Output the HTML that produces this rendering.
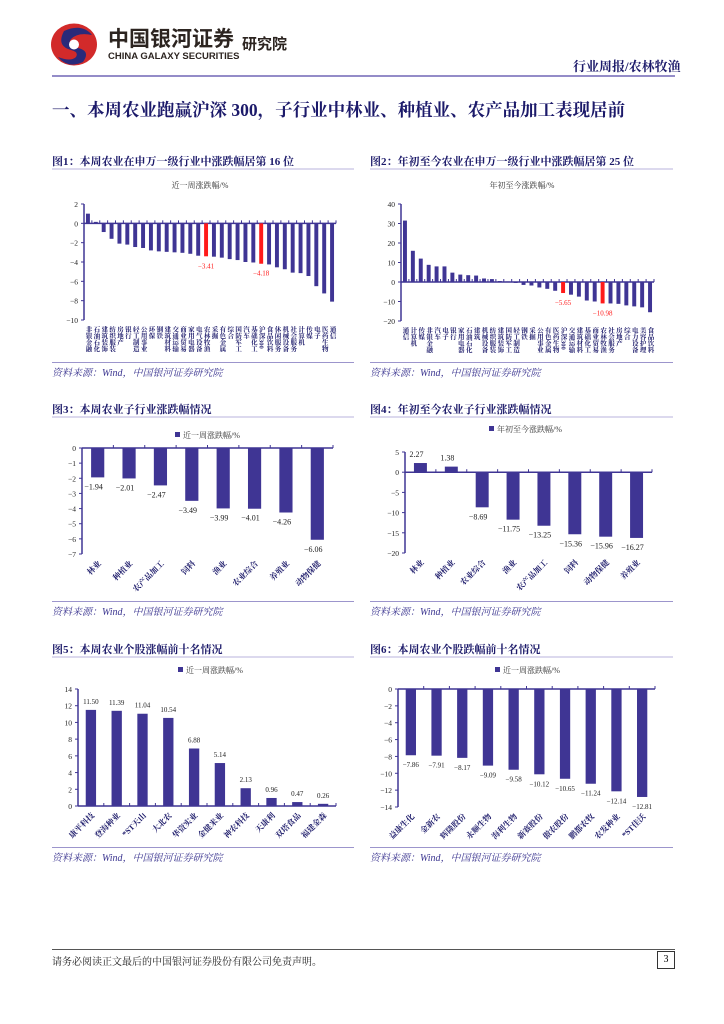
<!DOCTYPE html>
<html><head><meta charset="utf-8"><style>
body{margin:0;background:#fff;}
#page{position:relative;width:724px;height:1024px;overflow:hidden;background:#fff;font-family:"Liberation Serif","Noto Serif CJK SC",serif;}
.abs{position:absolute;white-space:nowrap;}
.lh1{line-height:1;}
.cap{font-size:11px;font-weight:bold;color:#1c1a6a;}
.src{font-size:10px;font-style:italic;color:#3b3590;}
.hl{position:absolute;height:2px;background:#dcd9ee;}
.sl{position:absolute;height:1px;background:#9c95cc;}
</style></head><body>
<div id="page">
<svg class="abs" style="left:50px;top:23px" width="48" height="43">
<ellipse cx="24" cy="21.5" rx="23" ry="21" fill="#d22a2a"/>
<path d="M14 8 Q32 0 42 12 Q28 9 21 16 Q16 23 28 25 Q41 28 33 39 Q18 46 8 34 Q21 39 26 34 Q29 29 21 27 Q6 23 14 8Z" fill="#2a2a7a"/>
<circle cx="24" cy="21.5" r="5" fill="#fff"/>
</svg>
<div class="abs lh1" style="left:108px;top:29px;font-size:21px;font-weight:bold;color:#2c2420;font-family:'Liberation Sans','Noto Sans CJK SC',sans-serif">中国银河证券</div>
<div class="abs lh1" style="left:108px;top:52px;font-size:9.5px;font-weight:bold;color:#2c2420;font-family:'Liberation Sans',sans-serif">CHINA GALAXY SECURITIES</div>
<div class="abs lh1" style="left:242px;top:37px;font-size:15px;font-weight:bold;color:#2c2420;font-family:'Liberation Sans','Noto Sans CJK SC',sans-serif">研究院</div>
<div class="abs" style="left:573px;top:56px;font-size:13px;font-weight:bold;color:#1c1a6a">行业周报/农林牧渔</div>
<div class="abs" style="left:52px;top:75px;width:623px;height:2px;background:#948cc8"></div>
<div class="abs" style="left:52px;top:97px;font-size:17.5px;font-weight:bold;color:#1c1a6a">一、本周农业跑赢沪深 300，子行业中林业、种植业、农产品加工表现居前</div>

<div class="abs cap" style="left:52px;top:153px">图1：本周农业在申万一级行业中涨跌幅居第 16 位</div>
<div class="hl" style="left:52px;top:168px;width:302px"></div>
<div class="abs cap" style="left:370px;top:153px">图2：年初至今农业在申万一级行业中涨跌幅居第 25 位</div>
<div class="hl" style="left:370px;top:168px;width:303px"></div>
<div class="sl" style="left:52px;top:362px;width:302px"></div>
<div class="sl" style="left:370px;top:362px;width:303px"></div>
<div class="abs src" style="left:52px;top:364px">资料来源：Wind，中国银河证券研究院</div>
<div class="abs src" style="left:370px;top:364px">资料来源：Wind，中国银河证券研究院</div>

<div class="abs cap" style="left:52px;top:401px">图3：本周农业子行业涨跌幅情况</div>
<div class="hl" style="left:52px;top:416px;width:302px"></div>
<div class="abs cap" style="left:370px;top:401px">图4：年初至今农业子行业涨跌幅情况</div>
<div class="hl" style="left:370px;top:416px;width:303px"></div>
<div class="sl" style="left:52px;top:601px;width:302px"></div>
<div class="sl" style="left:370px;top:601px;width:303px"></div>
<div class="abs src" style="left:52px;top:603px">资料来源：Wind，中国银河证券研究院</div>
<div class="abs src" style="left:370px;top:603px">资料来源：Wind，中国银河证券研究院</div>

<div class="abs cap" style="left:52px;top:641px">图5：本周农业个股涨幅前十名情况</div>
<div class="hl" style="left:52px;top:656px;width:302px"></div>
<div class="abs cap" style="left:370px;top:641px">图6：本周农业个股跌幅前十名情况</div>
<div class="hl" style="left:370px;top:656px;width:303px"></div>
<div class="sl" style="left:52px;top:847px;width:302px"></div>
<div class="sl" style="left:370px;top:847px;width:303px"></div>
<div class="abs src" style="left:52px;top:849px">资料来源：Wind，中国银河证券研究院</div>
<div class="abs src" style="left:370px;top:849px">资料来源：Wind，中国银河证券研究院</div>

<div class="abs" style="left:52px;top:949px;width:623px;height:1px;background:#555"></div>
<div class="abs" style="left:52px;top:953px;font-size:10px;color:#222">请务必阅读正文最后的中国银河证券股份有限公司免责声明。</div>
<div class="abs" style="left:657px;top:951px;width:16px;height:16px;border:1px solid #333;font-size:10px;text-align:center;line-height:16px">3</div>

<svg id="charts" class="abs" style="left:0;top:0" width="724" height="1024"></svg>
</div>
<script>
const c1Cats=['非银金融','石油石化','建筑装饰','纺织服装','房地产','银行','轻工制造','公用事业','环保','钢铁','建筑材料','交通运输','商业贸易','家用电器','电气设备','农林牧渔','采掘','有色金属','综合','国防军工','汽车','基础化工','沪深300','食品饮料','休闲服务','机械设备','社会服务','计算机','传媒','电子','医药生物','通信'];
const c1Vals=[1.0,0.15,-0.9,-1.6,-2.1,-2.2,-2.45,-2.55,-2.8,-2.9,-2.95,-3.0,-3.05,-3.15,-3.35,-3.41,-3.45,-3.55,-3.7,-3.8,-4.0,-4.05,-4.18,-4.25,-4.55,-4.75,-5.1,-5.15,-5.45,-6.5,-7.25,-8.1];
const c1Red=[15,22];
const c1Ticks=[2,0,-2,-4,-6,-8,-10];
const c2Cats=['通信','计算机','传媒','非银金融','汽车','电子','银行','家用电器','石油石化','建筑','机械设备','纺织服装','建筑装饰','国防军工','轻工制造','钢铁','采掘','公用事业','有色金属','医药生物','沪深300','交通运输','建筑材料','基础化工','商业贸易','农林牧渔','社会服务','房地产','综合','电力设备','美容护理','食品饮料'];
const c2Vals=[31.5,16,12,8.8,8,8,4.8,3.8,3.5,3.3,1.8,1.5,0.5,0.3,-0.5,-1.5,-1.8,-2.8,-3.5,-4.5,-5.65,-6.5,-7.5,-9.5,-10,-10.98,-11,-11.2,-12,-12.5,-13,-15.5];
const c2Red=[20,25];
const c2Ticks=[40,30,20,10,0,-10,-20];
const c3Cats=['林业','种植业','农产品加工','饲料','渔业','农业综合','养殖业','动物保健'];
const c3Vals=[-1.94,-2.01,-2.47,-3.49,-3.99,-4.01,-4.26,-6.06];
const c3Ticks=[0,-1,-2,-3,-4,-5,-6,-7];
const c4Cats=['林业','种植业','农业综合','渔业','农产品加工','饲料','动物保健','养殖业'];
const c4Vals=[2.27,1.38,-8.69,-11.75,-13.25,-15.36,-15.96,-16.27];
const c4Ticks=[5,0,-5,-10,-15,-20];
const c5Cats=['康平科技','登海种业','*ST天山','大北农','华资实业','金健米业','神农科技','天康利','双塔食品','福建金森'];
const c5Vals=[11.50,11.39,11.04,10.54,6.88,5.14,2.13,0.96,0.47,0.26];
const c5Ticks=[14,12,10,8,6,4,2,0];
const c6Cats=['益康生化','金新农','辉隆股份','永顺生物','海利生物','新赛股份','傲农股份','鹏都农牧','农发种业','*ST佳沃'];
const c6Vals=[-7.86,-7.91,-8.17,-9.09,-9.58,-10.12,-10.65,-11.24,-12.14,-12.81];
const c6Ticks=[0,-2,-4,-6,-8,-10,-12,-14];

const NS='http://www.w3.org/2000/svg';
const svg=document.getElementById('charts');
const BAR='#3f3594',RED='#ff1a1a',FONT='"Liberation Serif","Noto Serif CJK SC",serif';
function mk(tag,attrs,parent){const e=document.createElementNS(NS,tag);for(const k in attrs)e.setAttribute(k,attrs[k]);(parent||svg).appendChild(e);return e;}
function fmt(v,d){const s=Math.abs(v).toFixed(d);return (v<0?'−':'')+s;}
function chart(o,cats,vals,ticks){
  const g=mk('g',{});
  
  
  const vmax=ticks[0],vmin=ticks[ticks.length-1];
  const y=v=>o.yT+(vmax-v)/(vmax-vmin)*(o.yB-o.yT);
  const n=cats.length,step=(o.x1-o.x0)/n;
  const x=i=>o.x0+step*(i+0.5);
  if(o.legend){mk('rect',{x:o.tx-5,y:o.ty-6,width:5,height:5,fill:BAR},g);}
  const t=mk('text',{x:o.tx+(o.legend?3:0),y:o.ty,'font-size':8,fill:'#333','font-family':FONT,'text-anchor':o.legend?'start':'middle'},g);
  t.textContent=o.title;
  
  
  mk('line',{x1:o.x0,y1:o.yT,x2:o.x0,y2:o.yB,stroke:'#3f3594','stroke-width':1.5},g);
  mk('line',{x1:o.x0,y1:y(0),x2:o.x1,y2:y(0),stroke:'#3f3594','stroke-width':1.5},g);
  ticks.forEach(tv=>{
    mk('line',{x1:o.x0-3,y1:y(tv),x2:o.x0,y2:y(tv),stroke:'#3f3594'},g);
    const tt=mk('text',{x:o.x0-6,y:y(tv)+3,'font-size':7.5,fill:'#222','font-family':FONT,'text-anchor':'end'},g);
    tt.textContent=fmt(tv,0);
    
    
  });
  for(let i=1;i<=n;i++){mk('line',{x1:o.x0+step*i,y1:y(0),x2:o.x0+step*i,y2:y(0)-3,stroke:'#3f3594'},g);}
  const bw=step*o.bwf;
  vals.forEach((v,i)=>{
    const red=o.red&&o.red.includes(i);
    const b=mk('rect',{x:x(i)-bw/2,y:Math.min(y(v),y(0)),width:bw,height:Math.abs(y(v)-y(0)),fill:red?RED:BAR},g);
    
    
    if(o.allLabels||red){
      const lt=mk('text',{x:x(i)+(o.lblDx||0),y:v>=0?y(v)-6:y(v)+12,'font-size':o.lfs||8,fill:red?RED:'#222','font-family':FONT,'text-anchor':'middle'},g);
      lt.textContent=fmt(v,2);
      
      
    }
    let ct;
    if(o.vertical){
      ct=mk('text',{x:x(i),y:o.yB+6,'font-size':6.5,fill:'#1c1a6a','font-family':FONT,style:'writing-mode:vertical-rl;font-weight:bold'},g);
    }else{
      const lx=x(i)+4,ly=o.yB+10;
      ct=mk('text',{x:lx,y:ly,'font-size':8,fill:'#1c1a6a','font-weight':'bold','font-family':FONT,'text-anchor':'end',transform:`rotate(-45 ${lx} ${ly})`},g);
    }
    ct.textContent=cats[i];
    
    
  });
}
chart({name:'chart-week-industry',x0:84,x1:336,yT:204,yB:320,bwf:0.5,vertical:true,red:c1Red,title:'近一周涨跌幅/%',tx:200,ty:188,lfs:7},c1Cats,c1Vals,c1Ticks);
chart({name:'chart-ytd-industry',x0:401,x1:654,yT:204,yB:321,bwf:0.5,vertical:true,red:c2Red,title:'年初至今涨跌幅/%',tx:522,ty:188,lfs:7},c2Cats,c2Vals,c2Ticks);
chart({name:'chart-week-sub',x0:82,x1:333,yT:448,yB:554,bwf:0.42,allLabels:true,legend:true,title:'近一周涨跌幅/%',tx:180,ty:438,lblDx:-4},c3Cats,c3Vals,c3Ticks);
chart({name:'chart-ytd-sub',x0:405,x1:652,yT:452,yB:553,bwf:0.42,allLabels:true,legend:true,title:'年初至今涨跌幅/%',tx:494,ty:432,lblDx:-4},c4Cats,c4Vals,c4Ticks);
chart({name:'chart-top-gainers',x0:78,x1:336,yT:689,yB:806,bwf:0.4,allLabels:true,legend:true,title:'近一周涨跌幅/%',tx:183,ty:673,lfs:7},c5Cats,c5Vals,c5Ticks);
chart({name:'chart-top-losers',x0:398,x1:655,yT:689,yB:807,bwf:0.4,allLabels:true,legend:true,title:'近一周涨跌幅/%',tx:500,ty:673,lfs:7},c6Cats,c6Vals,c6Ticks);
</script>
</body></html>
